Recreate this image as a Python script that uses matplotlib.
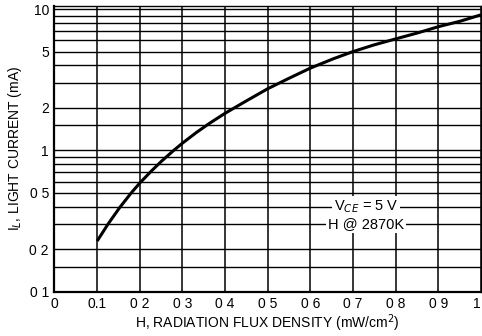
import numpy as np
import matplotlib.pyplot as plt
from matplotlib.ticker import FixedLocator, NullFormatter

plt.rcParams['font.family'] = ['Liberation Sans', 'DejaVu Sans']

# curve
flux = [0.1, 0.126, 0.153, 0.18, 0.2, 0.227, 0.251, 0.278, 0.3, 0.333, 0.363,
        0.4, 0.45, 0.5, 0.552, 0.6, 0.654, 0.7, 0.747, 0.8, 0.853, 0.9, 0.951, 1.0]
current = [0.228, 0.302, 0.394, 0.5, 0.587, 0.713, 0.838, 0.99, 1.124, 1.34, 1.55,
           1.83, 2.24, 2.73, 3.26, 3.82, 4.45, 5.0, 5.55, 6.15, 6.8, 7.5, 8.2, 9.1]

x_ticks = [0, 0.1, 0.2, 0.3, 0.4, 0.5, 0.6, 0.7, 0.8, 0.9, 1.0]
x_labels = ["0", "0.1", "0 2", "0 3", "0 4", "0 5", "0 6", "0 7", "0 8", "0 9", "1"]
y_ticks = [0.1, 0.2, 0.5, 1, 2, 5, 10]
y_labels = ["0 1", "0 2", "0 5", "1", "2", "5", "10"]
y_grid = [0.1, 0.15, 0.2, 0.3, 0.4, 0.5, 0.6, 0.7, 0.8, 0.9,
          1, 1.5, 2, 3, 4, 5, 6, 7, 8, 9, 10]

fig = plt.figure(figsize=(4.82, 3.36), dpi=100)
ax = fig.add_axes([0.113, 0.132, 0.885, 0.85])

ax.set_yscale('log')
ax.set_xlim(0, 1.0)
ax.set_ylim(0.1, 10.5)

# chart paper grid
for h in y_grid:
    ax.axhline(h, color='black', lw=1.0, zorder=1)
for v in x_ticks[1:]:
    ax.axvline(v, color='black', lw=1.1, zorder=1)

ax.plot(flux, current, color='black', lw=2.2, zorder=3,
        solid_capstyle='butt', solid_joinstyle='round')

ax.xaxis.set_major_locator(FixedLocator(x_ticks))
ax.set_xticklabels(x_labels)
ax.yaxis.set_major_locator(FixedLocator(y_ticks))
ax.set_yticklabels(y_labels)
ax.yaxis.set_minor_formatter(NullFormatter())
ax.tick_params(which='both', length=0, labelsize=10, pad=4)
# last label sits against the right edge
ax.get_xticklabels()[-1].set_horizontalalignment('right')

for side in ['left', 'bottom']:
    ax.spines[side].set_linewidth(1.6)
for side in ['top', 'right']:
    ax.spines[side].set_linewidth(1.0)

ax.set_xlabel("H, RADIATION FLUX DENSITY (mW/cm$^{2}$)", fontsize=10, labelpad=1)
ax.set_ylabel("I$_L$, LIGHT CURRENT (mA)", fontsize=10, labelpad=4)

box = dict(facecolor='white', edgecolor='none', pad=1.5)
ax.text(0.73, 0.4, "V$_{CE}$ = 5 V", ha='center', va='center', fontsize=10.5,
        bbox=box, zorder=4)
ax.text(0.73, 0.3, "H @ 2870K", ha='center', va='center', fontsize=10.5,
        bbox=box, zorder=4)

fig.savefig("out.png", dpi=100)
